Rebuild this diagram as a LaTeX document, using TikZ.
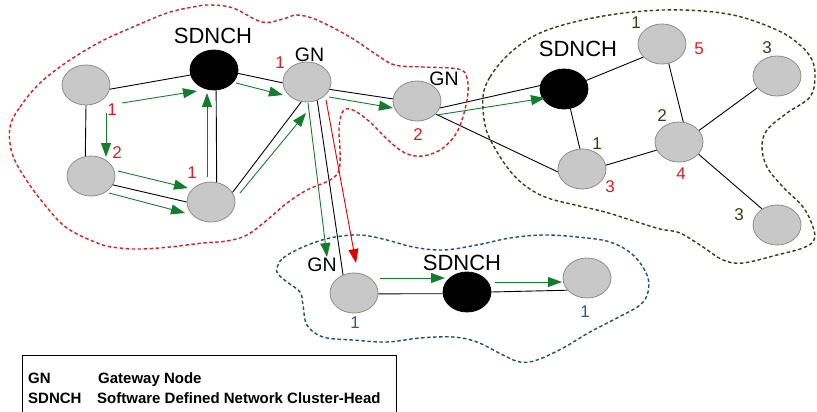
\documentclass[tikz,border=0pt]{standalone}
\usepackage{fontspec}
\setmainfont{Liberation Sans}
\usetikzlibrary{shapes.geometric,arrows.meta,calc}
\definecolor{nfill}{HTML}{C8C8C8}
\definecolor{ndraw}{HTML}{8C8C8C}
\definecolor{agreen}{RGB}{20,125,45}
\definecolor{ared}{HTML}{E00000}
\definecolor{cred}{HTML}{DD1C1C}
\definecolor{nred}{HTML}{E31B1B}
\definecolor{colive}{HTML}{3B3B10}
\definecolor{cblue}{HTML}{1F4E79}
\definecolor{nblue}{HTML}{2F5A8A}
\begin{document}
\begin{tikzpicture}[x=1pt,y=-1pt,
  gnode/.style={ellipse, minimum width=48pt, minimum height=40pt, inner sep=0pt, fill=nfill, draw=ndraw, line width=0.8pt},
  hnode/.style={gnode, fill=black, draw=black},
  edge/.style={draw=black, line width=0.9pt},
  garrow/.style={draw=agreen, line width=0.9pt, -{Triangle[length=14pt,width=10pt]}},
  rarrow/.style={draw=ared, line width=0.9pt, -{Triangle[length=14pt,width=10pt]}},
  hlabel/.style={inner sep=0pt, font=\fontsize{22}{22}\selectfont},
  gnlabel/.style={inner sep=0pt, font=\fontsize{19.5}{19.5}\selectfont},
  num/.style={inner sep=0pt, font=\fontsize{17}{17}\selectfont},
  rnum/.style={num, text=nred},
  onum/.style={num, text=colive},
  bnum/.style={num, text=nblue},
  cluster/.style={line width=1.4pt, dash pattern=on 3.5pt off 2.5pt},
  legtext/.style={inner sep=0pt, anchor=base west, font=\bfseries\fontsize{15}{15}\selectfont}
]
\useasboundingbox (0,0) rectangle (817,412);

% nodes
\node[gnode] (A) at (86,85) {};
\node[hnode] (S1) at (214,70) {};
\node[gnode] (G1) at (307,82) {};
\node[gnode] (G2) at (417,101) {};
\node[gnode] (B) at (91,176) {};
\node[gnode] (C) at (211,202) {};
\node[hnode] (S2) at (564,89) {};
\node[gnode] (N5) at (662,44) {};
\node[gnode] (R3) at (777,76) {};
\node[gnode] (N4) at (679,142) {};
\node[gnode] (N3) at (582,169) {};
\node[gnode] (B3) at (777,225) {};
\node[gnode] (G3) at (354,293) {};
\node[hnode] (S3) at (467,292) {};
\node[gnode] (R1) at (587,278) {};

% black links
\draw[edge] (A.-10) -- (S1.192);
\draw[edge] (A.-90) -- (B.106);
\draw[edge] (S1.-84) -- (C.74);
\draw[edge] (S1.-8) -- (G1.182);
\draw[edge] (B.-22) -- (C.180);
\draw[edge] (C.24) -- (G1.-106);
\draw[edge] (G1.-18) -- (G2.175);
\draw[edge] (G2.-17) -- (S2.172);
\draw[edge] (G2.-35) -- (N3.187);
\draw[edge] (S2.-72) -- (N3.96);
\draw[edge] (S2.21) -- (N5.215);
\draw[edge] (N5.-71) -- (N4.78);
\draw[edge] (N3.9) -- (N4.200);
\draw[edge] (N4.30) -- (R3.211);
\draw[edge] (N4.-32) -- (B3.133);
\draw[edge] (G1.-61) -- (G3.121);
\draw[edge] (G3.-2) -- (S3.184);
\draw[edge] (S3.east) -- (R1.212);

% green / red flows
\draw[garrow] ($(A)+(36,18)$) -- ($(S1)+(-17,21)$);
\draw[garrow] ($(A)+(20,28)$) -- ($(B)+(15,-19)$);
\draw[garrow] ($(C)+(-4,-25)$) -- ($(S1)+(-7,23)$);
\draw[garrow] ($(S1)+(22,13)$) -- ($(G1)+(-24,13)$);
\draw[garrow] ($(B)+(27,-5)$) -- ($(C)+(-23,-14)$);
\draw[garrow] ($(B)+(18,17)$) -- ($(C)+(-26,11)$);
\draw[garrow] ($(C)+(29,-9)$) -- ($(G1)+(-1,31)$);
\draw[garrow] ($(G1)+(22,15)$) -- ($(G2)+(-24,7)$);
\draw[garrow] ($(G2)+(20,14)$) -- ($(S2)+(-19,9)$);
\draw[garrow] ($(G1)+(1,21)$) -- ($(G3)+(-27,-36)$);
\draw[rarrow] ($(G1)+(19,18)$) -- ($(G3)+(2,-30)$);
\draw[garrow] ($(G3)+(26,-15)$) -- ($(S3)+(-22,-14)$);
\draw[garrow] ($(S3)+(28,-10)$) -- ($(R1)+(-25,4)$);

% labels
\node[hlabel] (lS1) at ($(S1)+(-1,-34)$) {SDNCH};
\node[gnlabel] (lG1) at ($(G1)+(2.5,-27.5)$) {GN};
\node[rnum] (nG1) at ($(G1)+(-27,-19)$) {1};
\node[gnlabel] (lG2) at ($(G2)+(27,-22)$) {GN};
\node[rnum] (nG2) at ($(G2)+(1,34)$) {2};
\node[rnum] (nA) at ($(A)+(26,25)$) {1};
\node[rnum] (nB) at ($(B)+(26,-23)$) {2};
\node[rnum] (nC) at ($(C)+(-19,-29)$) {1};
\node[hlabel] (lS2) at ($(S2)+(14,-40)$) {SDNCH};
\node[onum] (oN5) at ($(N5)+(-26,-21)$) {1};
\node[rnum] (rN5) at ($(N5)+(37,5)$) {5};
\node[onum] (oR3) at ($(R3)+(-10,-28)$) {3};
\node[onum] (oN4) at ($(N4)+(-17,-26)$) {2};
\node[rnum] (rN4) at ($(N4)+(2,32)$) {4};
\node[onum] (oB3) at ($(B3)+(-38,-10)$) {3};
\node[onum] (oN3) at ($(N3)+(15,-25)$) {1};
\node[rnum] (rN3) at ($(N3)+(28,18)$) {3};
\node[gnlabel] (lG3) at ($(G3)+(-32,-28)$) {GN};
\node[hlabel] (lS3) at ($(S3)+(-5,-29)$) {SDNCH};
\node[bnum] (bG3) at ($(G3)+(1,30)$) {1};
\node[bnum] (bR1) at ($(R1)+(-2,34)$) {1};

% cluster outlines
\draw[cluster, draw=cred] plot[smooth cycle, tension=0.6] coordinates {
 (10,127) (20,107) (40,83) (67,62) (100,42) (133,27) (167,13) (193,7) (210,5) (233,8)
 (262,22) (283,19) (297,15) (317,20) (350,37) (377,55) (395,65) (423,67) (458,69)
 (467,78) (467,100) (458,130) (443,148) (423,156) (405,153) (388,140) (370,122)
 (353,110) (343,111) (339,128) (340,150) (339,170) (330,180) (307,190) (287,203)
 (267,220) (247,235) (227,241) (203,243) (170,247) (140,249) (120,248) (100,244)
 (67,228) (45,205) (25,178) (12,153)};
\draw[cluster, draw=colive] plot[smooth cycle, tension=0.6] coordinates {
 (483,97) (490,77) (510,53) (540,33) (583,20) (633,12) (683,10) (733,15) (777,30)
 (800,45) (812,60) (815,77) (810,97) (787,113) (767,130) (762,147) (767,167) (783,187)
 (803,207) (813,227) (814,240) (803,248) (777,255) (743,263) (723,260) (703,247)
 (680,233) (660,229) (637,222) (605,212) (575,205) (545,197) (523,184) (507,167)
 (492,143) (485,125)};
\draw[cluster, draw=cblue] plot[smooth cycle, tension=0.6] coordinates {
 (277,268) (283,258) (303,247) (330,238) (360,235) (387,240) (413,247) (443,250)
 (477,245) (510,238) (543,235) (577,237) (610,242) (633,255) (647,275) (648,292)
 (640,305) (617,318) (590,332) (563,348) (537,360) (520,362) (503,355) (477,342)
 (453,337) (420,338) (387,342) (353,340) (323,337) (307,325) (303,305) (300,292)
 (287,282) (278,274)};

% legend
\coordinate (LBL) at (22,414);
\coordinate (LTL) at (22,355);
\coordinate (LTR) at (396,355);
\coordinate (LBR) at (396,414);
\draw[line width=0.9pt] (LBL) -- (LTL) -- (LTR) -- (LBR);
\node[legtext] (k1) at (28,383) {GN};
\node[legtext] (v1) at (98,383) {Gateway Node};
\node[legtext] (k2) at (28,403) {SDNCH};
\node[legtext] (v2) at (97,403) {Software Defined Network Cluster-Head};
\end{tikzpicture}
\end{document}
